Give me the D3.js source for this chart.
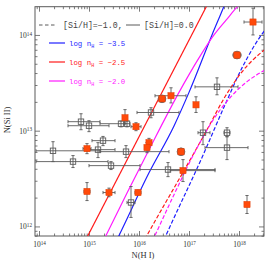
<!DOCTYPE html>
<html>
<head>
<meta charset="utf-8">
<script src="https://cdn.jsdelivr.net/npm/d3@7"></script>
<style>
body { margin: 0; background: #fff; }
</style>
</head>
<body>
<script>
// values are log10 column densities
var xTicks = [14, 15, 16, 17, 18];
var yTicks = [12, 13, 14];

// model curves [log N(HI), log N(SiII)]
var solidBlue = [[15.5, 11.8], [15.6, 11.906], [16.2, 12.56], [16.7, 13.05], [17.0, 13.4], [17.46, 14.0], [17.7, 14.3], [17.8, 14.43]];
var solidRed = [[14.9, 11.825], [17.45, 14.4]];
var solidMagenta = [[15.25, 11.81], [15.34, 11.906], [16.2, 12.8], [16.8, 13.4], [17.2, 13.76], [17.5, 14.0], [17.75, 14.16], [17.96, 14.29], [18.1, 14.36]];
var dashedBlue = [[16.45, 11.8], [16.54, 11.906], [17.26, 12.72], [17.72, 13.27], [18.06, 13.656], [18.52, 14.05], [18.6, 14.1]];
var dashedRed = [[16.06, 11.81], [16.16, 11.906], [16.9, 12.583], [17.34, 12.99], [17.72, 13.354], [18.06, 13.615], [18.5, 13.84], [18.6, 13.88]];
var dashedMagenta = [[16.27, 11.85], [16.32, 11.906], [16.72, 12.354], [17.12, 12.78], [17.46, 13.094], [17.82, 13.344], [18.18, 13.52], [18.52, 13.635], [18.6, 13.66]];

// observations [x, xlo, xhi, y, ylo, yhi]
var openPts = [
	[14.84, 14.58, 15.22, 13.094, 13.01, 13.177],
	[15.0, 14.58, 15.4, 13.052, 12.99, 13.104],
	[15.28, 15.06, 15.52, 12.896, 12.844, 12.94],
	[14.28, 13.94, 15.22, 12.79, 12.677, 12.885],
	[15.18, 15.02, 15.52, 12.802, 12.719, 12.875],
	[14.68, 13.94, 15.38, 12.677, 12.615, 12.74],
	[15.44, 15.0, 16.02, 12.635, 12.594, 12.677],
	[15.74, 15.22, 16.6, 12.781, 12.719, 12.844],
	[15.84, 15.76, 15.92, 12.25, 12.094, 12.417],
	[16.58, 16.02, 17.52, 12.594, 12.52, 12.667],
	[17.28, 17.18, 17.42, 12.979, 12.854, 13.094],
	[17.76, 17.7, 17.82, 12.979, 12.937, 13.031],
	[17.76, 17.32, 18.18, 12.823, 12.698, 12.937],
	[17.56, 17.12, 17.98, 13.458, 13.375, 13.552],
	[16.24, 15.96, 16.8, 13.19, 13.135, 13.24],
	[15.64, 15.22, 15.72, 13.073, 13.04, 13.1],
	[15.76, 15.7, 15.82, 13.073, 13.04, 13.1]
];
var filledPts = [
	[18.28, 18.1, 18.46, 14.135, 14.0, 14.28],
	[17.96, 17.88, 18.04, 13.79, 13.76, 13.82],
	[16.46, 16.4, 16.52, 13.333, 13.3, 13.365],
	[16.64, 16.32, 16.94, 13.365, 13.29, 13.448],
	[17.14, 17.1, 17.18, 13.27, 13.19, 13.354],
	[15.72, 15.68, 15.76, 13.135, 13.073, 13.22],
	[15.94, 15.84, 16.04, 13.042, 13.0, 13.083],
	[16.84, 16.8, 16.88, 12.78, 12.75, 12.81],
	[16.88, 16.62, 17.52, 12.583, 12.469, 12.698],
	[16.2, 16.16, 16.24, 12.875, 12.83, 12.92],
	[16.16, 16.12, 16.2, 12.823, 12.77, 12.875],
	[14.96, 14.88, 15.04, 12.8125, 12.76, 12.865],
	[14.96, 14.9, 15.02, 12.365, 12.27, 12.458],
	[15.4, 15.28, 15.52, 12.354, 12.31, 12.40],
	[15.98, 15.92, 16.04, 12.354, 12.33, 12.38],
	[18.16, 18.12, 18.2, 12.229, 12.135, 12.323]
];
var circled = [1, 2, 7];

var legendNames = ["log n", "log n", "log n"];
var legendVals = ["= \u22123.5", "= \u22122.5", "= \u22122.0"];
var legendColors = ["#1f1fff", "#ff1a1a", "#ff1aff"];

var w = 274, h = 271;
var L = 35, R = 264, T = 6.7, B = 236;
var grey = "#5a5a5a";
var orange = "#ff4a0a";
var serif = "'Liberation Serif', 'DejaVu Serif', serif";
var mono = "'Liberation Mono', 'DejaVu Sans Mono', monospace";

function p(v) { return Math.pow(10, v); }

var x = d3.scaleLog().domain([p(13.92), p(18.5)]).range([L, R]);
var y = d3.scaleLog().domain([p(11.9), p(14.295)]).range([B, T]);

var svg = d3.select("body")
	.append("svg")
	.attr("width", w)
	.attr("height", h);

svg.append("defs").append("clipPath").attr("id", "clip")
	.append("rect")
	.attr("x", L).attr("y", T)
	.attr("width", R - L).attr("height", B - T);

// minor tick values
function minors(lo, hi) {
	var out = [];
	for (var e = Math.floor(lo); e <= hi; e++) {
		for (var m = 2; m <= 9; m++) {
			var v = Math.log10(m) + e;
			if (v > lo && v < hi) out.push(p(v));
		}
	}
	return out;
}
var xMinor = minors(13.92, 18.5);
var yMinor = minors(11.9, 14.295);

function styleAxis(g) {
	g.select(".domain").remove();
	g.selectAll("line").attr("stroke", grey).attr("stroke-width", 0.8);
}

function supLabels(g) {
	g.selectAll("text").each(function(d) {
		var t = d3.select(this);
		t.text("10").attr("font-family", serif).attr("font-size", "7.5px").attr("fill", "#333");
		t.append("tspan").attr("dy", "-0.45em").attr("font-size", "5.2px").text(Math.round(Math.log10(d)));
	});
}

// bottom
svg.append("g").attr("transform", "translate(0," + B + ")")
	.call(d3.axisBottom(x).tickValues(xMinor).tickSize(-2.5).tickFormat(""))
	.call(styleAxis);
svg.append("g").attr("transform", "translate(0," + B + ")")
	.call(d3.axisBottom(x).tickValues(xTicks.map(p)).tickSize(-5).tickPadding(6))
	.call(styleAxis)
	.call(supLabels);
// top
svg.append("g").attr("transform", "translate(0," + T + ")")
	.call(d3.axisTop(x).tickValues(xMinor).tickSize(-2.5).tickFormat(""))
	.call(styleAxis);
svg.append("g").attr("transform", "translate(0," + T + ")")
	.call(d3.axisTop(x).tickValues(xTicks.map(p)).tickSize(-5).tickFormat(""))
	.call(styleAxis);
// left
svg.append("g").attr("transform", "translate(" + L + ",0)")
	.call(d3.axisLeft(y).tickValues(yMinor).tickSize(-2.5).tickFormat(""))
	.call(styleAxis);
svg.append("g").attr("transform", "translate(" + L + ",0)")
	.call(d3.axisLeft(y).tickValues(yTicks.map(p)).tickSize(-5).tickPadding(3))
	.call(styleAxis)
	.call(supLabels);
// right
svg.append("g").attr("transform", "translate(" + R + ",0)")
	.call(d3.axisRight(y).tickValues(yMinor).tickSize(-2.5).tickFormat(""))
	.call(styleAxis);
svg.append("g").attr("transform", "translate(" + R + ",0)")
	.call(d3.axisRight(y).tickValues(yTicks.map(p)).tickSize(-5).tickFormat(""))
	.call(styleAxis);

svg.append("rect")
	.attr("x", L).attr("y", T)
	.attr("width", R - L).attr("height", B - T)
	.attr("fill", "none")
	.attr("stroke", grey)
	.attr("stroke-width", 1);

// axis titles
svg.append("text")
	.attr("x", 143).attr("y", 258)
	.attr("text-anchor", "middle")
	.attr("font-family", serif).attr("font-size", "8.5px").attr("fill", "#333")
	.text("N(H I)");
svg.append("text")
	.attr("transform", "translate(10,120) rotate(-90)")
	.attr("text-anchor", "middle")
	.attr("font-family", serif).attr("font-size", "8.5px").attr("fill", "#333")
	.text("N(Si II)");

var plot = svg.append("g").attr("clip-path", "url(#clip)");

var line = d3.line()
	.x(function(d) { return x(p(d[0])); })
	.y(function(d) { return y(p(d[1])); })
	.curve(d3.curveMonotoneX);

var curves = [
	[solidBlue, legendColors[0], null],
	[solidRed, legendColors[1], null],
	[solidMagenta, legendColors[2], null],
	[dashedBlue, legendColors[0], "4,2"],
	[dashedRed, legendColors[1], "4,2"],
	[dashedMagenta, legendColors[2], "4,2"]
];
plot.selectAll("path.model")
	.data(curves)
	.enter()
	.append("path")
	.attr("class", "model")
	.attr("d", function(d) { return line(d[0]); })
	.attr("fill", "none")
	.attr("stroke", function(d) { return d[1]; })
	.attr("stroke-width", 1.2)
	.attr("stroke-dasharray", function(d) { return d[2]; });

// error bars
function errBars(data) {
	var g = plot.append("g").attr("stroke", grey).attr("stroke-width", 0.9).attr("fill", "none");
	g.selectAll("path")
		.data(data)
		.enter()
		.append("path")
		.attr("d", function(d) {
			var cx = x(p(d[0])), cy = y(p(d[3]));
			var x0 = x(p(d[1])), x1 = x(p(d[2]));
			var y0 = y(p(d[4])), y1 = y(p(d[5]));
			var c = 1.6;
			return "M" + x0 + "," + cy + "H" + x1 +
				"M" + x0 + "," + (cy - c) + "V" + (cy + c) +
				"M" + x1 + "," + (cy - c) + "V" + (cy + c) +
				"M" + cx + "," + y0 + "V" + y1 +
				"M" + (cx - c) + "," + y0 + "H" + (cx + c) +
				"M" + (cx - c) + "," + y1 + "H" + (cx + c);
		});
}
errBars(openPts);
errBars(filledPts);

plot.selectAll("rect.open")
	.data(openPts)
	.enter()
	.append("rect")
	.attr("class", "open")
	.attr("x", function(d) { return x(p(d[0])) - 2.7; })
	.attr("y", function(d) { return y(p(d[3])) - 2.7; })
	.attr("width", 5.4).attr("height", 5.4)
	.attr("fill", "none")
	.attr("stroke", grey)
	.attr("stroke-width", 0.9);

plot.selectAll("circle.ring")
	.data(circled.map(function(i) { return filledPts[i]; }))
	.enter()
	.append("circle")
	.attr("class", "ring")
	.attr("cx", function(d) { return x(p(d[0])); })
	.attr("cy", function(d) { return y(p(d[3])); })
	.attr("r", 3.9)
	.attr("fill", "#c86040")
	.attr("stroke", "#666")
	.attr("stroke-width", 0.8);

plot.selectAll("rect.filled")
	.data(filledPts)
	.enter()
	.append("rect")
	.attr("class", "filled")
	.attr("x", function(d) { return x(p(d[0])) - 3.1; })
	.attr("y", function(d) { return y(p(d[3])) - 3.1; })
	.attr("width", 6.2).attr("height", 6.2)
	.attr("fill", orange)
	.attr("stroke", "#e03a00")
	.attr("stroke-width", 0.5);

// legend
var lg = svg.append("g");
lg.append("line").attr("x1", 39).attr("x2", 57).attr("y1", 25).attr("y2", 25)
	.attr("stroke", grey).attr("stroke-width", 1).attr("stroke-dasharray", "3.5,2.5");
lg.append("text").attr("x", 63).attr("y", 28)
	.attr("font-family", mono).attr("font-size", "8.3px").attr("fill", "#444")
	.text("[Si/H]=\u22121.0,");
lg.append("line").attr("x1", 126).attr("x2", 140).attr("y1", 25).attr("y2", 25)
	.attr("stroke", grey).attr("stroke-width", 1);
lg.append("text").attr("x", 144).attr("y", 28)
	.attr("font-family", mono).attr("font-size", "8.3px").attr("fill", "#444")
	.text("[Si/H]=0.0");

var rows = lg.selectAll("g.row")
	.data(legendNames)
	.enter()
	.append("g")
	.attr("class", "row")
	.attr("transform", function(d, i) { return "translate(0," + (43 + i * 19) + ")"; });
rows.append("line")
	.attr("x1", 49).attr("x2", 65).attr("y1", 0).attr("y2", 0)
	.attr("stroke", function(d, i) { return legendColors[i]; })
	.attr("stroke-width", 1.2);
var lt = rows.append("text")
	.attr("x", 69).attr("y", 3)
	.attr("font-family", mono).attr("font-size", "7.4px")
	.attr("fill", function(d, i) { return legendColors[i]; })
	.attr("xml:space", "preserve")
	.text(function(d) { return d; });
lt.append("tspan").attr("dy", 2).attr("font-size", "5px").text("H");
lt.append("tspan").attr("dy", -2).text(function(d, i) { return " " + legendVals[i]; });
</script>
</body>
</html>
